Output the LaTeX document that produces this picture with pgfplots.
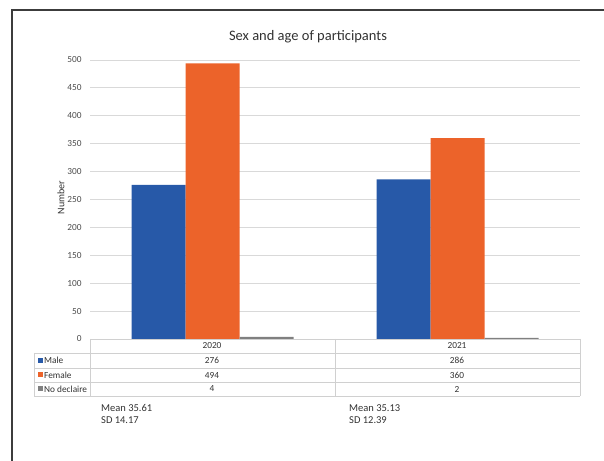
\documentclass[border=0pt]{standalone}
\usepackage{pgfplots}
\usepackage{pgfplotstable}
\pgfplotsset{compat=1.18}
\usepackage{fontspec}
\setmainfont{Carlito}

\definecolor{maleblue}{RGB}{39,89,168}
\definecolor{femaleorange}{RGB}{236,99,42}
\definecolor{nodeclgray}{RGB}{128,128,128}
\definecolor{gridgray}{RGB}{217,217,217}
\definecolor{tablegray}{RGB}{208,208,208}
\definecolor{textgray}{RGB}{75,75,75}
\definecolor{darktext}{RGB}{50,50,50}
\definecolor{framegray}{RGB}{60,60,60}

% participants by sex, one row per survey year
\pgfplotstableread{
year Male Female NoDecl
0    276  494    4
1    286  360    2
}\participants

\newcommand{\cell}[2]{\pgfplotstablegetelem{#1}{#2}\of\participants\pgfplotsretval}

\begin{document}
\begin{tikzpicture}[x=1pt,y=1pt]
\useasboundingbox (0,0) rectangle (604,460);

% outer frame
\draw[framegray, line width=1.4pt] (12,-5) -- (12,450) -- (610,450);

% title and axis label
\node[font=\fontsize{14.5}{17}\selectfont, text=darktext] at (308,423) {Sex and age of participants};
\node[font=\fontsize{10}{12}\selectfont, text=darktext, rotate=90] at (61,262.5) {Number};

\begin{axis}[
  at={(90pt,121pt)}, anchor=south west,
  scale only axis, width=490pt, height=279pt,
  xmin=-0.5, xmax=1.5, ymin=0, ymax=500,
  ybar=0pt, bar width=54pt,
  ytick={0,50,...,500}, xtick=\empty,
  ymajorgrids, grid style={gridgray, line width=0.8pt},
  axis line style={draw=none},
  major tick length=0pt,
  yticklabel shift=5pt,
  yticklabel style={font=\fontsize{9.3}{11}\selectfont, text=textgray},
  /pgf/number format/assume math mode=true,
  clip=false,
]
\addplot[fill=maleblue, draw=none] table[x=year, y=Male] {\participants};
\addplot[fill=femaleorange, draw=none] table[x=year, y=Female] {\participants};
\addplot[fill=nodeclgray, draw=none] table[x=year, y=NoDecl] {\participants};
\end{axis}

% data table below the plot
\begin{scope}[tablegray, line width=0.8pt]
  \draw (90,121) -- (580,121);
  \foreach \yy in {107,92,78,64} \draw (34,\yy) -- (580,\yy);
  \draw (34,107) -- (34,64);
  \foreach \xx in {90,335,580} \draw (\xx,121) -- (\xx,64);
\end{scope}

\begin{scope}[font=\fontsize{9.3}{11}\selectfont, text=darktext]
  \node at (212,114) {2020};
  \node at (457,114) {2021};
  \node at (212,99.5) {\cell{0}{Male}};
  \node at (457,99.5) {\cell{1}{Male}};
  \node at (212,85) {\cell{0}{Female}};
  \node at (457,85) {\cell{1}{Female}};
  \node at (212,71) {\cell{0}{NoDecl}};
  \node at (457,71) {\cell{1}{NoDecl}};
  \fill[maleblue] (37.5,97) rectangle (42.5,102);
  \fill[femaleorange] (37.5,82.5) rectangle (42.5,87.5);
  \fill[nodeclgray] (37.5,68.5) rectangle (42.5,73.5);
  \node[anchor=west, inner sep=0pt] at (44,99.5) {Male};
  \node[anchor=west, inner sep=0pt] at (44,85) {Female};
  \node[anchor=west, inner sep=0pt] at (44,71) {No declaire};
\end{scope}

% age summary per year
\begin{scope}[font=\fontsize{10.5}{12}\selectfont, text=darktext]
  \node[anchor=west, inner sep=0pt] at (101,52) {Mean 35.61};
  \node[anchor=west, inner sep=0pt] at (101,39.5) {SD 14.17};
  \node[anchor=west, inner sep=0pt] at (349,52) {Mean 35.13};
  \node[anchor=west, inner sep=0pt] at (349,39.5) {SD 12.39};
\end{scope}
\end{tikzpicture}
\end{document}
